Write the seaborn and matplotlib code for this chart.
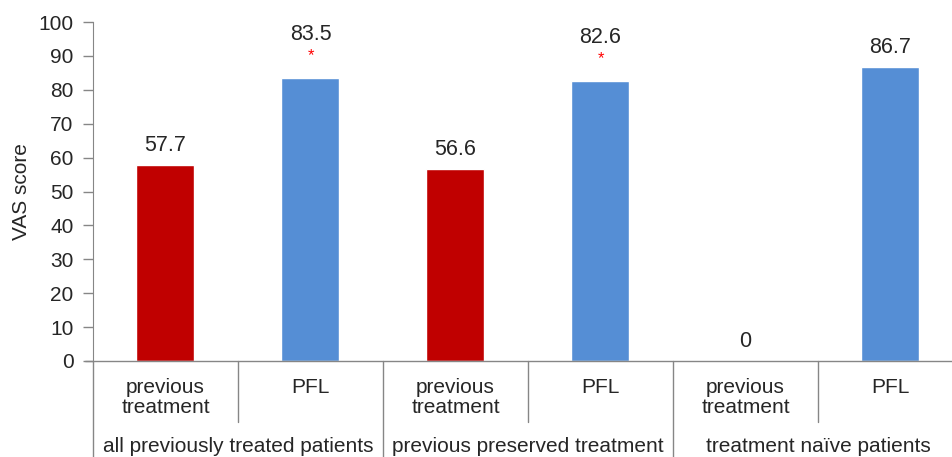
import pandas as pd
import matplotlib.pyplot as plt
import seaborn as sns

groups = ["all previously treated patients", "previous preserved treatment", "treatment naïve patients"]
treatments = ["previous\ntreatment", "PFL"]
scores = [57.7, 83.5, 56.6, 82.6, 0, 86.7]
labels = ["57.7", "83.5", "56.6", "82.6", "0", "86.7"]
starred = [False, True, False, True, False, False]

rows = []
i = 0
for g in groups:
    for t in treatments:
        rows.append({"key": f"{g}|{t}", "group": g, "treatment": t, "score": scores[i]})
        i += 1
df = pd.DataFrame(rows)

sns.set_style("white")
plt.rcParams["font.family"] = ["Liberation Sans", "DejaVu Sans"]

fig = plt.figure(figsize=(9.53, 4.57), dpi=100)
ax = fig.add_axes([93 / 953, 96 / 457, 870 / 953, 339 / 457])

palette = {"previous\ntreatment": "#C00000", "PFL": "#558ED5"}
sns.barplot(data=df, x="key", y="score", hue="treatment", palette=palette,
            width=0.4, dodge=False, legend=False, saturation=1, ax=ax)

ax.set_ylim(0, 100)
ax.set_xlim(-0.5, 5.5)
ax.set_yticks(range(0, 101, 10))
ax.tick_params(axis="y", labelsize=15, length=7, width=1, color="#868686", pad=7, left=True)
ax.set_xticks([])
ax.set_xlabel("")
ax.set_ylabel("VAS score", fontsize=15)
ax.yaxis.set_label_coords(-62 / 870, 0.5)

for s in ["top", "right", "bottom"]:
    ax.spines[s].set_visible(False)
ax.spines["left"].set_color("#868686")

# axis lines and category separators (axes fraction in y)
px = 1 / 339
ax.plot([0, 0], [0, -100 * px], transform=ax.transAxes, color="#868686", lw=1, clip_on=False)
ax.plot([-8 / 870, 1], [0, 0], transform=ax.transAxes, color="#868686", lw=1, clip_on=False)
trans = ax.get_xaxis_transform()
for k, xs in enumerate([0.5, 1.5, 2.5, 3.5, 4.5]):
    bottom = -100 * px if k % 2 == 1 else -61 * px
    ax.plot([xs, xs], [0, bottom], transform=trans, color="#868686", lw=1, clip_on=False)

# two-level category labels
for j, row in df.iterrows():
    ax.text(j, -17 * px, row["treatment"], transform=trans, ha="center", va="top",
            fontsize=15, linespacing=1.05)
for g_i, g in enumerate(groups):
    ax.text(2 * g_i + 0.5, -86 * px, g, transform=trans, ha="center", va="center", fontsize=15)

# value labels and significance stars
for j in range(len(scores)):
    if starred[j]:
        ax.annotate("*", (j, scores[j]), xytext=(0, 16), textcoords="offset points",
                    ha="center", va="center", color="#FF0000", fontsize=12)
        ax.annotate(labels[j], (j, scores[j]), xytext=(0, 31), textcoords="offset points",
                    ha="center", va="center", fontsize=15.5)
    else:
        ax.annotate(labels[j], (j, scores[j]), xytext=(0, 14), textcoords="offset points",
                    ha="center", va="center", fontsize=15.5)

plt.savefig("out.png", dpi=100)
plt.close()
